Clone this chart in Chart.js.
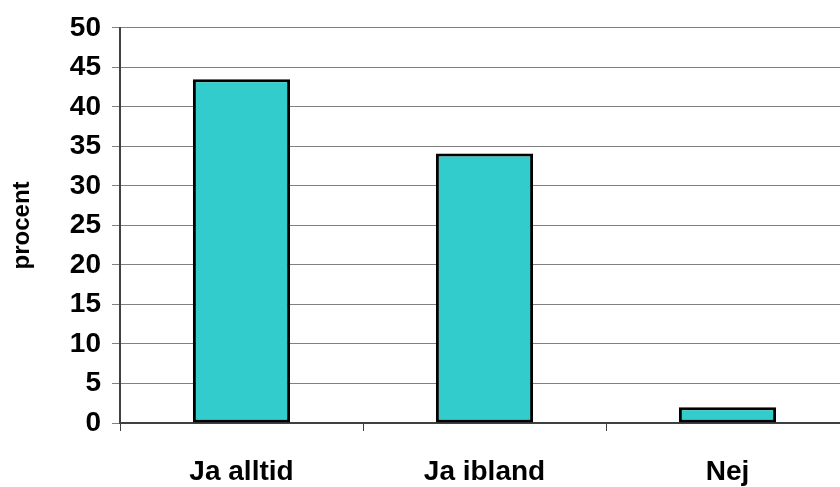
<!DOCTYPE html>
<html>
<head>
<meta charset="utf-8">
<style>
  html, body { margin: 0; padding: 0; background: #fff; overflow: hidden; }
  #wrap { width: 840px; height: 487px; overflow: hidden; }
</style>
<script src="https://cdn.jsdelivr.net/npm/chart.js@4/dist/chart.umd.min.js"></script>
</head>
<body>
<div id="wrap"><canvas id="c" width="849" height="487"></canvas></div>
<script>
const categories = ['Ja alltid', 'Ja ibland', 'Nej'];
const procent = [43.5, 34.1, 2.0];
const yTicks = [0, 5, 10, 15, 20, 25, 30, 35, 40, 45, 50];

const font = { family: '"Liberation Sans", Arial, sans-serif', weight: 'bold' };

new Chart(document.getElementById('c'), {
  type: 'bar',
  data: {
    labels: categories,
    datasets: [{
      data: procent,
      backgroundColor: '#33CCCC',
      borderColor: '#000000',
      borderWidth: 3,
      borderSkipped: false,
      categoryPercentage: 1,
      barPercentage: 0.4
    }]
  },
  options: {
    responsive: false,
    animation: false,
    layout: { padding: { top: 27, right: 0, left: 0, bottom: 0 } },
    plugins: { legend: { display: false }, tooltip: { enabled: false } },
    scales: {
      x: {
        grid: {
          offset: true,
          drawOnChartArea: false,
          drawTicks: true,
          tickLength: 8,
          color: '#404040'
        },
        border: { display: true, color: '#404040', width: 2 },
        ticks: {
          color: '#000',
          padding: 24,
          font: Object.assign({ size: 28 }, font)
        },
        afterFit: s => { s.height = 64; }
      },
      y: {
        min: 0,
        max: 50,
        afterBuildTicks: s => { s.ticks = yTicks.map(v => ({ value: v })); },
        grid: {
          color: '#808080',
          lineWidth: 1,
          drawTicks: true,
          tickLength: 8,
          tickColor: '#808080'
        },
        border: { display: true, color: '#404040', width: 2 },
        ticks: {
          color: '#000',
          padding: 11,
          font: Object.assign({ size: 28 }, font)
        },
        title: {
          display: true,
          text: 'procent',
          color: '#000',
          padding: { top: 8, bottom: 0 },
          font: Object.assign({ size: 24 }, font)
        },
        afterFit: s => { s.width = 120; }
      }
    }
  }
});
</script>
</body>
</html>
